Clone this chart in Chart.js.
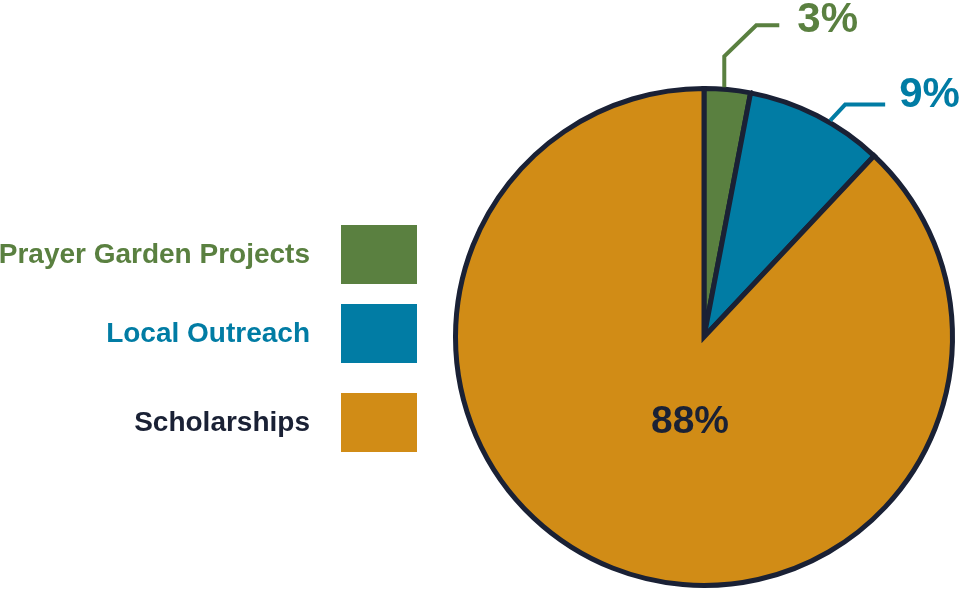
<!DOCTYPE html>
<html>
<head>
<meta charset="utf-8">
<script src="https://cdn.jsdelivr.net/npm/chart.js@4.4.1/dist/chart.umd.min.js"></script>
<style>
  html, body { margin: 0; padding: 0; background: #fff; }
  #wrap { width: 971px; height: 591px; position: relative; }
</style>
</head>
<body>
<div id="wrap"><canvas id="pie"></canvas></div>
<script>
// chart data
const categories = ['Prayer Garden Projects', 'Local Outreach', 'Scholarships'];
const shares = [3, 9, 88];
const shareLabels = ['3%', '9%', '88%'];
const sliceColors = ['#5a8040', '#017ca4', '#d18c16'];
const labelColors = ['#5a8040', '#017ca4', '#1a2135'];

const NAVY = '#1a2135';
const FONT = '"Liberation Sans", Arial, sans-serif';

// legend on the left: text right-aligned, swatch after it
const sideLegend = {
    id: 'sideLegend',
    afterDraw: (chart) => {
        const { ctx } = chart;
        const rows = [225, 304, 393];
        ctx.save();
        ctx.font = 'bold 28px ' + FONT;
        ctx.textAlign = 'right';
        ctx.textBaseline = 'middle';
        chart.data.labels.forEach((label, i) => {
            ctx.fillStyle = sliceColors[i];
            ctx.fillRect(341, rows[i], 76, 59);
            ctx.fillStyle = labelColors[i];
            ctx.fillText(label, 310, rows[i] + 30);
        });
        ctx.restore();
    }
};

// percent labels, two with leader lines
const sliceLabels = {
    id: 'sliceLabels',
    afterDraw: (chart) => {
        const { ctx } = chart;
        const arcs = chart.getDatasetMeta(0).data;
        const leaders = [
            { t: 0.43, path: [[0, -31], [32, -31], [23, 0]], text: [18, 7] },
            { t: 0.6, path: [[15, -16], [40, 0]], text: [14, 2] },
        ];
        ctx.save();
        leaders.forEach((ld, i) => {
            const a = arcs[i];
            const ang = a.startAngle + (a.endAngle - a.startAngle) * ld.t;
            const r = a.outerRadius + 2;
            let x = a.x + Math.cos(ang) * r;
            let y = a.y + Math.sin(ang) * r;
            ctx.beginPath();
            ctx.moveTo(x, y);
            ld.path.forEach(([dx, dy]) => {
                x += dx; y += dy;
                ctx.lineTo(x, y);
            });
            ctx.lineWidth = 4;
            ctx.lineJoin = 'miter';
            ctx.strokeStyle = sliceColors[i];
            ctx.stroke();

            ctx.fillStyle = labelColors[i];
            ctx.font = 'bold 42px ' + FONT;
            ctx.textAlign = 'left';
            ctx.textBaseline = 'alphabetic';
            ctx.fillText(shareLabels[i], x + ld.text[0], y + ld.text[1]);
        });

        // big slice label inside
        const big = arcs[2];
        ctx.fillStyle = NAVY;
        ctx.font = 'bold 39px ' + FONT;
        ctx.textAlign = 'center';
        ctx.textBaseline = 'middle';
        ctx.fillText(shareLabels[2], big.x - 14, big.y + 85);
        ctx.restore();
    }
};

new Chart(document.getElementById('pie'), {
    type: 'pie',
    data: {
        labels: categories,
        datasets: [{
            data: shares,
            backgroundColor: sliceColors,
            borderColor: NAVY,
            borderWidth: 5,
            borderJoinStyle: 'miter',
        }],
    },
    options: {
        responsive: true,
        maintainAspectRatio: false,
        animation: false,
        layout: { padding: { left: 453, right: 16, top: 86, bottom: 3 } },
        plugins: {
            legend: { display: false },
            tooltip: { enabled: false },
        },
    },
    plugins: [sideLegend, sliceLabels],
});
</script>
</body>
</html>
